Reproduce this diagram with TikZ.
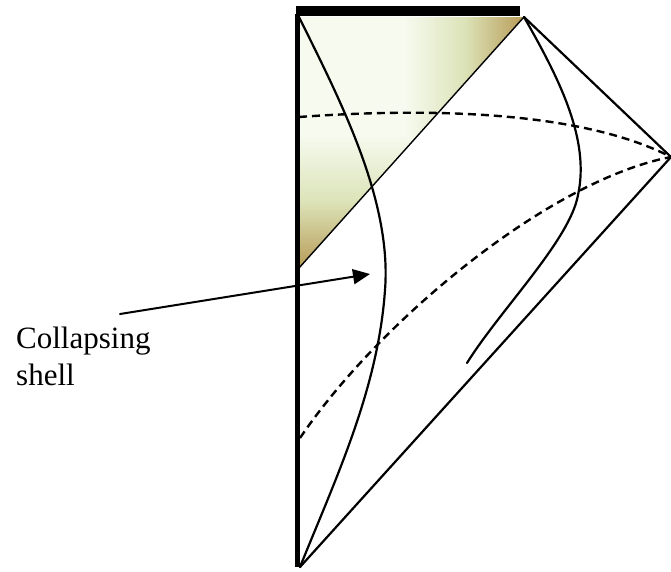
\documentclass[tikz,border=0pt]{standalone}
\usepackage{fontspec}
\setmainfont{Liberation Serif}
\usetikzlibrary{arrows.meta}
\definecolor{shlight}{HTML}{F6FAEF}
\definecolor{shmid}{HTML}{DCE3B8}
\definecolor{shtan}{HTML}{B89C58}
\begin{document}
\begin{tikzpicture}[x=1pt,y=-1pt,line cap=round,line join=round,
    worldline/.style={line width=2.2pt},
    slice/.style={line width=2.4pt,line cap=butt,dash pattern=on 8pt off 5pt},
    boundary/.style={line width=5pt,line cap=butt}]
  \useasboundingbox (0,0) rectangle (671,571);

  % corners of the diagram
  \coordinate (topL) at (299,17);
  \coordinate (topR) at (524,17);
  \coordinate (tip) at (671,157);
  \coordinate (bot) at (300,567);
  \coordinate (horL) at (299,268);
  \coordinate (mid) at (411.5,142.5);

  % shaded region inside the horizon, in thin strips
  \begin{scope}
    \clip (topL) -- (topR) -- (mid) -- cycle;
    \fill[shlight] (299,17) rectangle (406,268);
    \foreach \i in {0,...,59}{
      \pgfmathsetmacro\p{min(100,200*\i/59)}
      \pgfmathsetmacro\q{max(0,200*\i/59-100)}
      \pgfmathsetmacro\xa{405+2*\i}
      \fill[shtan!\q!shmid!\p!shlight] (\xa,17) rectangle (\xa+2.3,268);
    }
  \end{scope}
  \begin{scope}
    \clip (topL) -- (mid) -- (horL) -- cycle;
    \fill[shlight] (299,17) rectangle (524,136);
    \foreach \i in {0,...,66}{
      \pgfmathsetmacro\p{min(100,200*\i/66)}
      \pgfmathsetmacro\q{max(0,200*\i/66-100)}
      \pgfmathsetmacro\ya{135+2*\i}
      \fill[shtan!\q!shmid!\p!shlight] (299,\ya) rectangle (524,\ya+2.3);
    }
  \end{scope}
  \draw[line width=1.4pt] (topR) -- (horL);

  % boundaries
  \draw[boundary] (297,14) -- (297,567);
  \draw[line width=10pt,line cap=butt] (296,10.5) -- (520,10.5);
  \draw[worldline] (topR) -- (tip) -- (bot);

  % shell and outer worldline
  \draw[worldline] (topL) .. controls (340,100) and (392,200) .. (385,290)
    .. controls (378,390) and (335,480) .. (bot);
  \draw[worldline] (topR) .. controls (560,80) and (590,140) .. (578,195)
    .. controls (570,240) and (500,310) .. (467,363);

  % time slices
  \draw[slice] (299,117) .. controls (450,106) and (590,115) .. (tip);
  \draw[slice] (300,438) .. controls (380,320) and (550,180) .. (tip);

  % label
  \node[anchor=base west,align=left,inner sep=0pt,
        font=\fontsize{31}{37}\selectfont] (shell) at (16,385)
    {Collapsing\\shell};
  \coordinate (arrTail) at (120,314);
  \coordinate (arrHead) at (370,274);
  \draw[line width=2pt,-{Triangle[length=17pt,width=15pt]}]
    (arrTail) -- (arrHead);
\end{tikzpicture}
\end{document}
